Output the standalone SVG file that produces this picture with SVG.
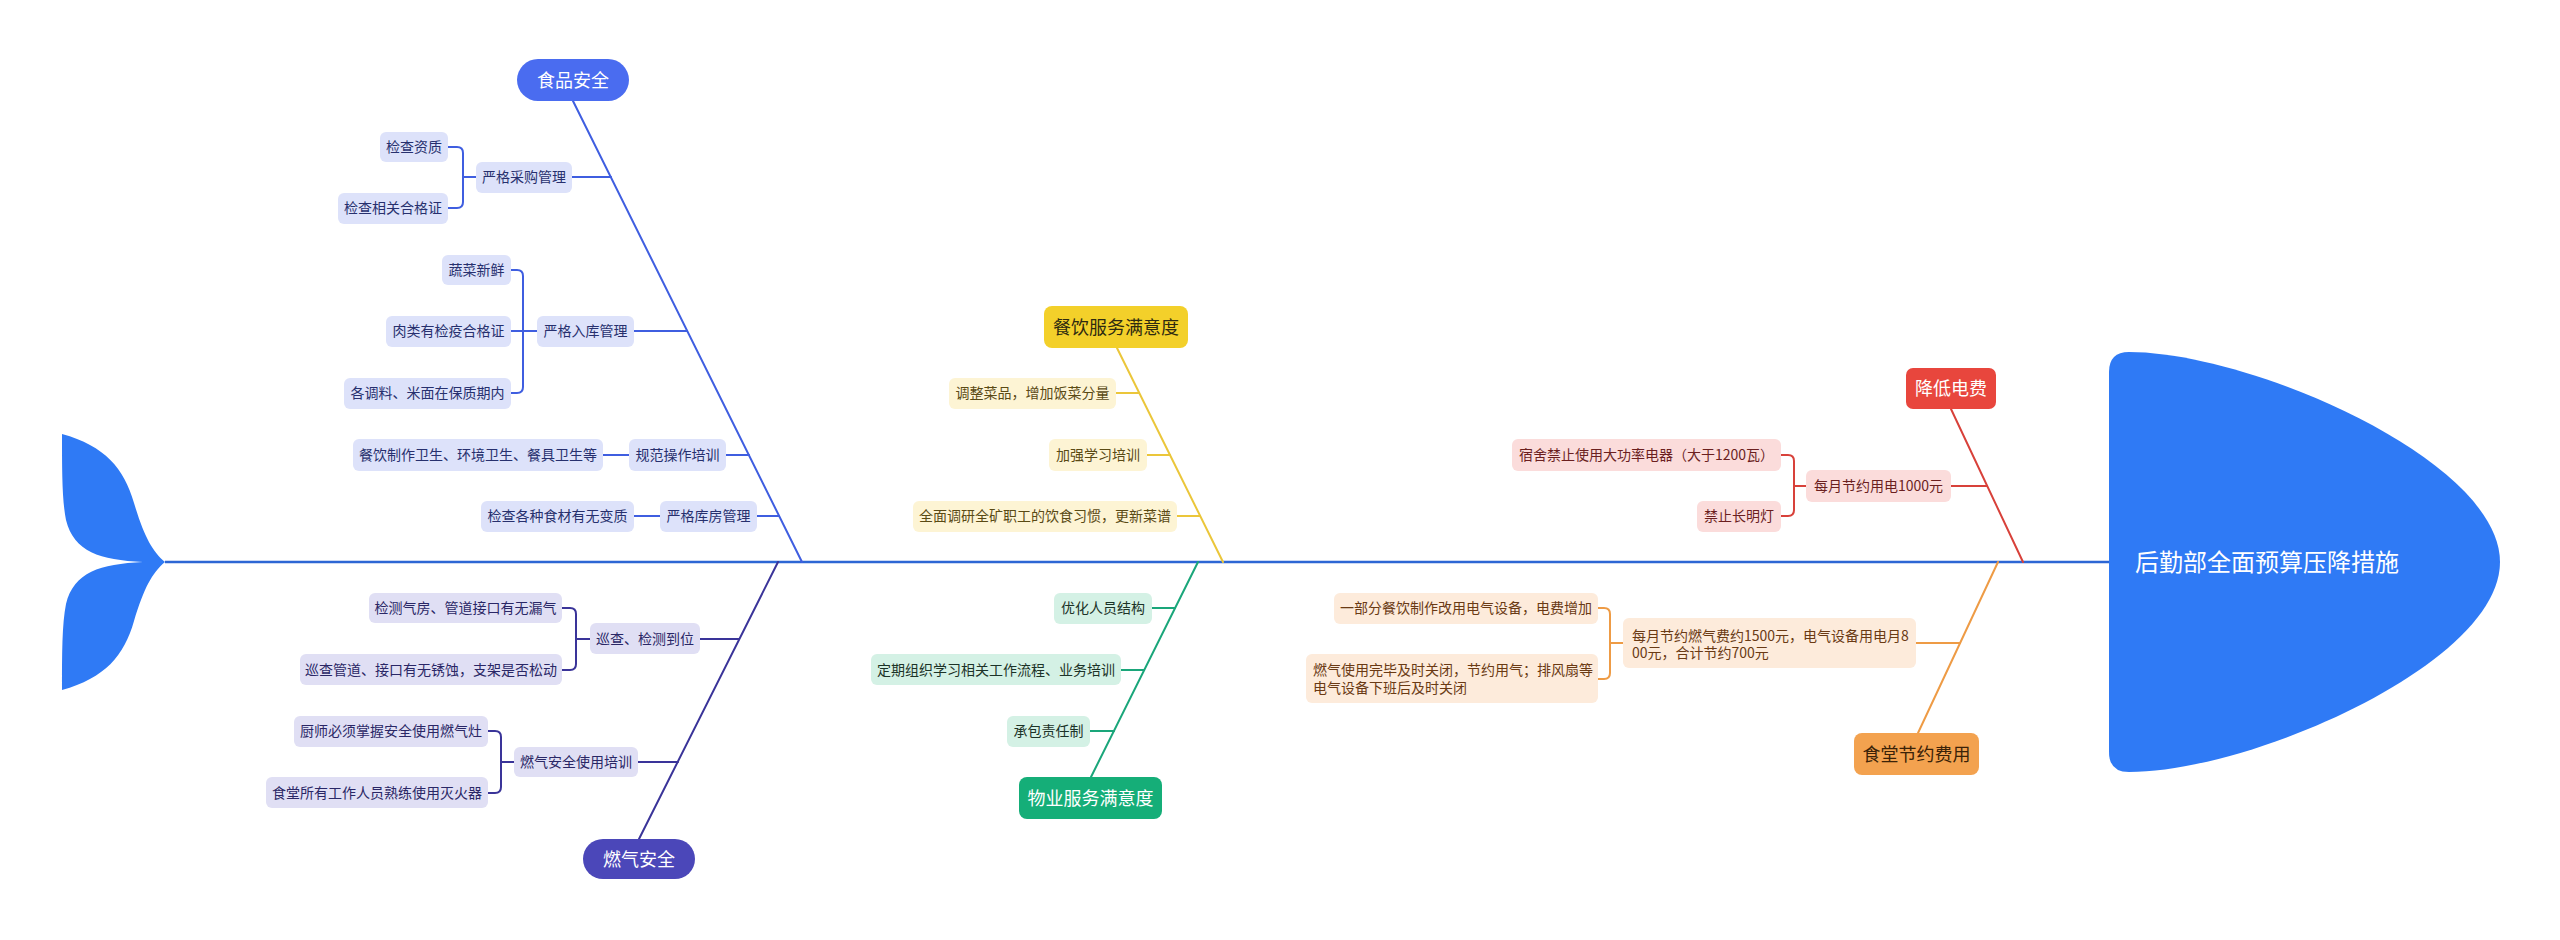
<svg xmlns="http://www.w3.org/2000/svg" width="2560" height="940" viewBox="0 0 2560 940">
<style>
text{font-family:"Noto Sans CJK SC","Noto Sans",sans-serif;}
.t14{font-size:14px;text-anchor:middle;}
.t14l{font-size:14px;}
.t18{font-size:18px;text-anchor:middle;}
.ln{fill:none;stroke-width:2;stroke-linecap:round;stroke-linejoin:round;}
.food .lf{fill:#dde2fa;} .food text{fill:#27306e;}
.gas .lf{fill:#e0dff4;} .gas text{fill:#2a2766;}
.cat .lf{fill:#fdf4d4;} .cat text{fill:#5a4a14;}
.prop .lf{fill:#d4f1e5;} .prop text{fill:#1c3328;}
.can .lf{fill:#fdebdb;} .can text{fill:#6a3a14;}
.red .lf{fill:#fbdcdb;} .red text{fill:#6b1f1f;}
</style>
<defs></defs>

<g id="connectors">
  <line x1="165" y1="562" x2="2112" y2="562" stroke="#2c66d4" stroke-width="2.5"/>
  <g class="ln" stroke="#3f5ee0">
    <line x1="573" y1="101" x2="802" y2="562"/>
    <path d="M448,147 H457 Q463,147 463,153 V202 Q463,208 457,208 H448 M463,177 H476"/>
    <line x1="572" y1="177" x2="611" y2="177"/>
    <path d="M511,270 H517 Q523,270 523,276 V387 Q523,393 517,393 H511 M511,331 H537"/>
    <line x1="634" y1="331" x2="687" y2="331"/>
    <line x1="603" y1="455" x2="629" y2="455"/>
    <line x1="726" y1="455" x2="749" y2="455"/>
    <line x1="634" y1="516" x2="660" y2="516"/>
    <line x1="757" y1="516" x2="779" y2="516"/>
  </g>
  <g class="ln" stroke="#3a3499">
    <line x1="639" y1="839" x2="778" y2="562"/>
    <path d="M562,608 H570 Q576,608 576,614 V664 Q576,670 570,670 H562 M576,639 H590"/>
    <line x1="700" y1="639" x2="739" y2="639"/>
    <path d="M488,731 H495 Q501,731 501,737 V787 Q501,793 495,793 H488 M501,762 H514"/>
    <line x1="638" y1="762" x2="678" y2="762"/>
  </g>
  <g class="ln" stroke="#ebc63a">
    <line x1="1117" y1="348" x2="1223" y2="562"/>
    <line x1="1116" y1="393" x2="1139" y2="393"/>
    <line x1="1147" y1="455" x2="1170" y2="455"/>
    <line x1="1177" y1="516" x2="1200" y2="516"/>
  </g>
  <g class="ln" stroke="#1aa67a">
    <line x1="1091" y1="777" x2="1198" y2="562"/>
    <line x1="1152" y1="608" x2="1175" y2="608"/>
    <line x1="1121" y1="670" x2="1144" y2="670"/>
    <line x1="1090" y1="731" x2="1114" y2="731"/>
  </g>
  <g class="ln" stroke="#ee9b45">
    <line x1="1918" y1="733" x2="1998" y2="562"/>
    <path d="M1598,608 H1604 Q1610,608 1610,614 V673 Q1610,679 1604,679 H1598 M1610,643 H1623"/>
    <line x1="1916" y1="643" x2="1960" y2="643"/>
  </g>
  <g class="ln" stroke="#d8413a">
    <line x1="1951" y1="409" x2="2023" y2="562"/>
    <path d="M1781,455 H1788 Q1794,455 1794,461 V510 Q1794,516 1788,516 H1781 M1794,486 H1806"/>
    <line x1="1951" y1="486" x2="1987" y2="486"/>
  </g>
</g>

<g id="tail">
  <path fill="#2f7af5" d="M62,434 C105,446 124,468 134,503 C144,536 152,551 165,562 L143,562 C100,560 74,552 66,520 C62,500 62,470 62,434 Z"/>
  <path fill="#2f7af5" d="M62,690 C105,678 124,656 134,621 C144,588 152,573 165,562 L143,562 C100,564 74,572 66,604 C62,624 62,654 62,690 Z"/>
</g>

<g id="head">
  <path fill="#2f7af5" d="M2109,372 Q2109,352 2129,352 C2250,352 2500,460 2500,562 C2500,664 2250,772 2129,772 Q2109,772 2109,752 Z"/>
  <text x="2135" y="571" style="font-size:24px;fill:#ffffff">后勤部全面预算压降措施</text>
</g>

<g id="food" class="food">
  <g id="food-root"><rect x="517" y="59" width="112" height="42" rx="21" fill="#4a6cf0"/><text class="t18" x="573" y="87" style="fill:#ffffff">食品安全</text></g>
  <g id="food-1"><rect class="lf" x="476" y="162" width="96" height="31" rx="6"/><text class="t14" x="524" y="182">严格采购管理</text></g>
  <g id="food-1a"><rect class="lf" x="380" y="132" width="68" height="30" rx="6"/><text class="t14" x="414" y="152">检查资质</text></g>
  <g id="food-1b"><rect class="lf" x="338" y="193" width="110" height="31" rx="6"/><text class="t14" x="393" y="213">检查相关合格证</text></g>
  <g id="food-2"><rect class="lf" x="537" y="316" width="97" height="31" rx="6"/><text class="t14" x="585.5" y="336">严格入库管理</text></g>
  <g id="food-2a"><rect class="lf" x="442" y="255" width="69" height="30" rx="6"/><text class="t14" x="476.5" y="275">蔬菜新鲜</text></g>
  <g id="food-2b"><rect class="lf" x="386" y="316" width="125" height="31" rx="6"/><text class="t14" x="448.5" y="336">肉类有检疫合格证</text></g>
  <g id="food-2c"><rect class="lf" x="344" y="378" width="167" height="31" rx="6"/><text class="t14" x="427.5" y="398">各调料、米面在保质期内</text></g>
  <g id="food-3"><rect class="lf" x="629" y="439" width="97" height="32" rx="6"/><text class="t14" x="677.5" y="460">规范操作培训</text></g>
  <g id="food-3a"><rect class="lf" x="353" y="439" width="250" height="32" rx="6"/><text class="t14" x="478" y="460">餐饮制作卫生、环境卫生、餐具卫生等</text></g>
  <g id="food-4"><rect class="lf" x="660" y="501" width="97" height="31" rx="6"/><text class="t14" x="708.5" y="521">严格库房管理</text></g>
  <g id="food-4a"><rect class="lf" x="481" y="501" width="153" height="31" rx="6"/><text class="t14" x="557.5" y="521">检查各种食材有无变质</text></g>
</g>

<g id="gas" class="gas">
  <g id="gas-root"><rect x="583" y="839" width="112" height="40" rx="20" fill="#4b47b9"/><text class="t18" x="639" y="866" style="fill:#ffffff">燃气安全</text></g>
  <g id="gas-1"><rect class="lf" x="590" y="623" width="110" height="31" rx="6"/><text class="t14" x="645" y="644">巡查、检测到位</text></g>
  <g id="gas-1a"><rect class="lf" x="369" y="593" width="193" height="30" rx="6"/><text class="t14" x="465.5" y="613">检测气房、管道接口有无漏气</text></g>
  <g id="gas-1b"><rect class="lf" x="300" y="654" width="262" height="31" rx="6"/><text class="t14" x="431" y="675">巡查管道、接口有无锈蚀，支架是否松动</text></g>
  <g id="gas-2"><rect class="lf" x="514" y="747" width="124" height="30" rx="6"/><text class="t14" x="576" y="767">燃气安全使用培训</text></g>
  <g id="gas-2a"><rect class="lf" x="294" y="716" width="194" height="31" rx="6"/><text class="t14" x="391" y="736">厨师必须掌握安全使用燃气灶</text></g>
  <g id="gas-2b"><rect class="lf" x="266" y="777" width="222" height="31" rx="6"/><text class="t14" x="377" y="798">食堂所有工作人员熟练使用灭火器</text></g>
</g>

<g id="catering" class="cat">
  <g id="cat-root"><rect x="1044" y="306" width="144" height="42" rx="8" fill="#f3d02a"/><text class="t18" x="1116" y="334" style="fill:#2e2a10">餐饮服务满意度</text></g>
  <g id="cat-1"><rect class="lf" x="949" y="378" width="167" height="31" rx="6"/><text class="t14" x="1032.5" y="398">调整菜品，增加饭菜分量</text></g>
  <g id="cat-2"><rect class="lf" x="1049" y="439" width="98" height="32" rx="6"/><text class="t14" x="1098" y="460">加强学习培训</text></g>
  <g id="cat-3"><rect class="lf" x="913" y="501" width="264" height="31" rx="6"/><text class="t14" x="1045" y="521">全面调研全矿职工的饮食习惯，更新菜谱</text></g>
</g>

<g id="property" class="prop">
  <g id="prop-root"><rect x="1019" y="777" width="143" height="42" rx="8" fill="#15ae78"/><text class="t18" x="1090.5" y="805" style="fill:#ffffff">物业服务满意度</text></g>
  <g id="prop-1"><rect class="lf" x="1054" y="593" width="98" height="31" rx="6"/><text class="t14" x="1103" y="613">优化人员结构</text></g>
  <g id="prop-2"><rect class="lf" x="871" y="654" width="250" height="31" rx="6"/><text class="t14" x="996" y="675">定期组织学习相关工作流程、业务培训</text></g>
  <g id="prop-3"><rect class="lf" x="1007" y="716" width="83" height="31" rx="6"/><text class="t14" x="1048.5" y="736">承包责任制</text></g>
</g>

<g id="canteen" class="can">
  <g id="can-root"><rect x="1854" y="733" width="125" height="42" rx="8" fill="#f3a24f"/><text class="t18" x="1916.5" y="761" style="fill:#3b2208">食堂节约费用</text></g>
  <g id="can-1"><rect class="lf" x="1623" y="618" width="293" height="50" rx="6"/><text class="t14l" x="1632" y="641">每月节约燃气费约1500元，电气设备用电月8</text><text class="t14l" x="1632" y="658">00元，合计节约700元</text></g>
  <g id="can-1a"><rect class="lf" x="1334" y="593" width="264" height="31" rx="6"/><text class="t14" x="1466" y="613">一部分餐饮制作改用电气设备，电费增加</text></g>
  <g id="can-1b"><rect class="lf" x="1306" y="654" width="292" height="49" rx="6"/><text class="t14l" x="1313" y="675">燃气使用完毕及时关闭，节约用气；排风扇等</text><text class="t14l" x="1313" y="693">电气设备下班后及时关闭</text></g>
</g>

<g id="electric" class="red">
  <g id="red-root"><rect x="1906" y="368" width="90" height="41" rx="7" fill="#e8463d"/><text class="t18" x="1951" y="395" style="fill:#ffffff">降低电费</text></g>
  <g id="red-1"><rect class="lf" x="1806" y="470" width="145" height="32" rx="6"/><text class="t14" x="1878.5" y="491">每月节约用电1000元</text></g>
  <g id="red-1a"><rect class="lf" x="1512" y="439" width="269" height="32" rx="6"/><text class="t14" x="1646.5" y="460">宿舍禁止使用大功率电器（大于1200瓦）</text></g>
  <g id="red-1b"><rect class="lf" x="1697" y="501" width="84" height="31" rx="6"/><text class="t14" x="1739" y="521">禁止长明灯</text></g>
</g>
</svg>
